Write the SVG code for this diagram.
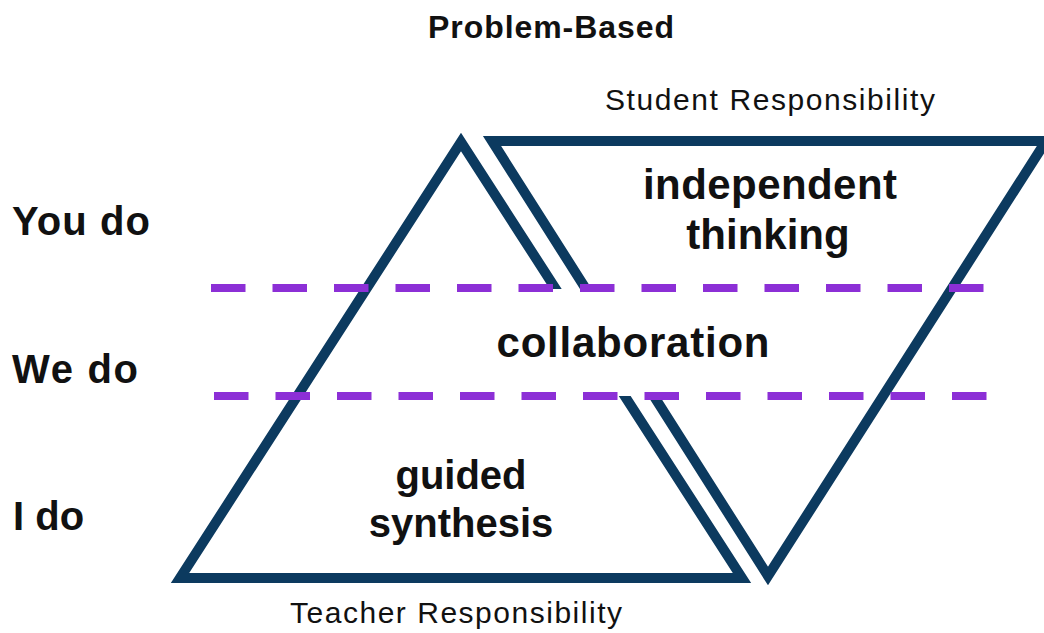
<svg xmlns="http://www.w3.org/2000/svg" width="1044" height="633" viewBox="0 0 1044 633">
<style>
.tri{fill:none;stroke:#0c3a5f;stroke-width:10;stroke-linejoin:miter;stroke-miterlimit:10}
.dash{stroke:#8c2fd6;stroke-width:8;stroke-dasharray:34.5 27;fill:none}
.lbl{font-family:"Liberation Sans",Arial,sans-serif;font-weight:bold;fill:#111;font-size:40px}
.mid{font-family:"Liberation Sans",Arial,sans-serif;font-weight:bold;fill:#111;font-size:42px;text-anchor:middle}
.resp{font-family:"Liberation Sans",Arial,sans-serif;fill:#111;font-size:30px}
.title{font-family:"Liberation Sans",Arial,sans-serif;font-weight:bold;fill:#111;font-size:32px;text-anchor:middle}
</style>
<rect width="1044" height="633" fill="#fff"/>
<text class="title" x="551" y="38" textLength="246">Problem-Based</text>
<g id="teacher-triangle">
<path class="tri" d="M461 142 L180 578 L742 578 Z"/>
</g>
<g id="student-triangle">
<path class="tri" d="M492 141 L1046 141 L768 576 Z"/>
</g>
<rect x="535" y="289" width="140" height="107" fill="#fff"/>
<g id="connectors">
<line class="dash" x1="211" y1="288" x2="985" y2="288"/>
<line class="dash" x1="214" y1="396" x2="988" y2="396"/>
</g>
<g id="labels">
<text class="lbl" x="12" y="235" textLength="138">You do</text>
<text class="lbl" x="12" y="383" textLength="126">We do</text>
<text class="lbl" x="13" y="530">I do</text>
</g>
<g id="independent-thinking">
<text class="mid" x="770" y="199" textLength="254">independent</text>
<text class="mid" x="768" y="249">thinking</text>
</g>
<g id="collaboration">
<text class="mid" x="633" y="357" textLength="273">collaboration</text>
</g>
<g id="guided-synthesis">
<text class="mid" x="461" y="489" style="font-size:40px">guided</text>
<text class="mid" x="461" y="537" style="font-size:40px">synthesis</text>
</g>
<g id="student-responsibility">
<text class="resp" x="605" y="110" textLength="330">Student Responsibility</text>
</g>
<g id="teacher-responsibility">
<text class="resp" x="290" y="623" textLength="332">Teacher Responsibility</text>
</g>
</svg>
